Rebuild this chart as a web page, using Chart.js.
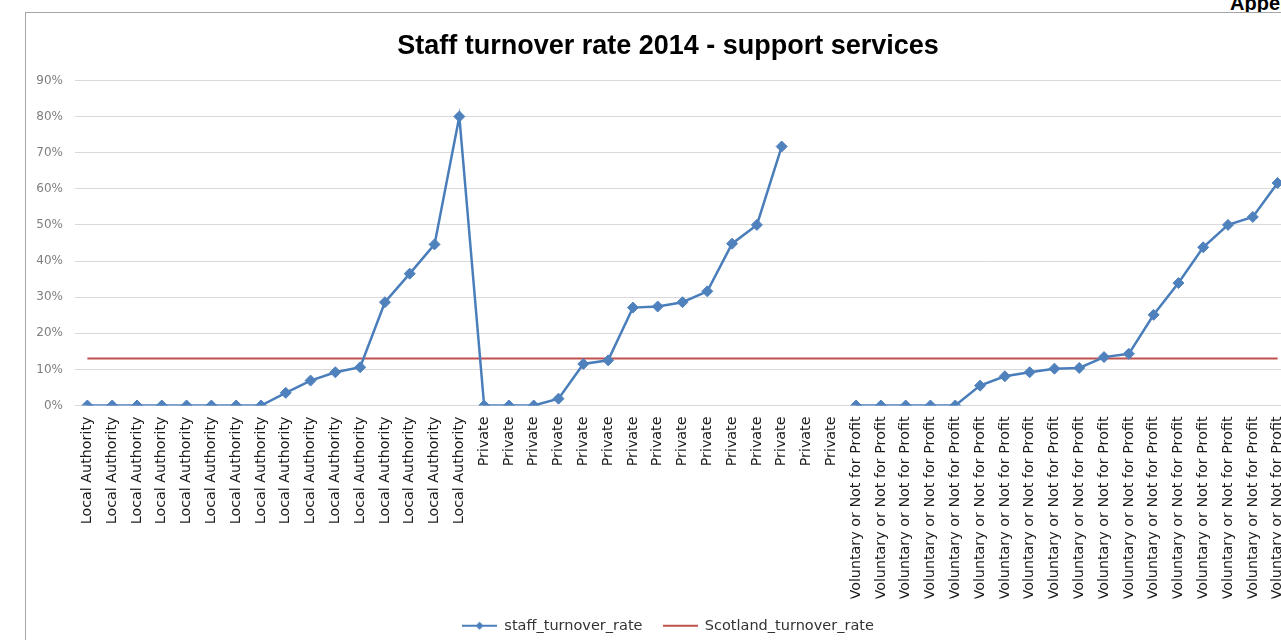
<!DOCTYPE html>
<html>
<head>
<meta charset="utf-8">
<title>Staff turnover rate 2014 - support services</title>
<script src="https://cdn.jsdelivr.net/npm/chart.js@4.4.1/dist/chart.umd.min.js"></script>
<style>
  html, body { margin:0; padding:0; width:1281px; height:640px; overflow:hidden; background:#fff; }
  #appendix { position:absolute; left:1230px; top:-7px; font:bold 20px 'Liberation Sans', Arial, sans-serif; color:#000; line-height:1; white-space:nowrap; }
  #frame { position:absolute; left:25px; top:12px; width:1284px; height:660px; border:1px solid #a6a6a6; background:#fff; }
  #frame canvas { display:block; }
</style>
</head>
<body>
<div id="appendix">Appendix</div>
<div id="frame"><canvas id="turnoverChart" width="1284" height="640"></canvas></div>
<script>
// ── data (percent) ──
const laRates = [0, 0, 0, 0, 0, 0, 0, 0, 3.5, 6.9, 9.2, 10.6, 28.6, 36.5, 44.6, 80];
const privateRates = [0, 0, 0, 1.9, 11.5, 12.5, 27.1, 27.4, 28.6, 31.6, 44.8, 50, 71.7, null, null];
const voluntaryRates = [0, 0, 0, 0, 0, 5.5, 8.1, 9.2, 10.2, 10.4, 13.4, 14.3, 25.1, 33.9, 43.8, 50, 52.2, 61.6];
const scotlandRate = 13;
const yMax = 90;
const yStep = 10;

const categories = [
  ...laRates.map(() => 'Local Authority'),
  ...privateRates.map(() => 'Private'),
  ...voluntaryRates.map(() => 'Voluntary or Not for Profit'),
];
const staffRates = [...laRates, ...privateRates, ...voluntaryRates];
const scotlandRates = categories.map(() => scotlandRate);

const BLUE = '#4A7EBB';
const RED = '#C0504D';
const GRID = '#d9d9d9';
const LABEL_FONT = "'DejaVu Sans', sans-serif";

// legend symbols: line with a diamond, plain line
function legendIcon(color, marker) {
  const c = document.createElement('canvas');
  c.width = 35; c.height = 12;
  const g = c.getContext('2d');
  g.strokeStyle = color; g.lineWidth = 2;
  g.beginPath(); g.moveTo(0, 6); g.lineTo(35, 6); g.stroke();
  if (marker) {
    g.fillStyle = color;
    g.beginPath(); g.moveTo(17.5, 2); g.lineTo(21.5, 6); g.lineTo(17.5, 10); g.lineTo(13.5, 6); g.closePath(); g.fill();
  }
  return c;
}
const icons = [legendIcon(BLUE, true), legendIcon(RED, false)];

new Chart(document.getElementById('turnoverChart'), {
  type: 'line',
  data: {
    labels: categories,
    datasets: [
      { label: 'staff_turnover_rate', data: staffRates, borderColor: BLUE, backgroundColor: '#4F81BD',
        borderWidth: 2.5, pointStyle: 'rectRot', pointRadius: 5.5, pointBackgroundColor: '#4F81BD',
        pointBorderColor: '#4F81BD', pointBorderWidth: 1, tension: 0, spanGaps: false },
      { label: 'Scotland_turnover_rate', data: scotlandRates, borderColor: RED, borderWidth: 2, pointRadius: 0, tension: 0 }
    ]
  },
  options: {
    responsive: false,
    animation: false,
    devicePixelRatio: 1,
    layout: { padding: { left: 0, right: 0, top: 0, bottom: 10 } },
    plugins: {
      title: { display: true, text: 'Staff turnover rate 2014 - support services', color: '#000',
        font: { family: "'Liberation Sans', Arial, sans-serif", weight: 'bold', size: 27 }, padding: { top: 17, bottom: 18 } },
      legend: {
        position: 'bottom',
        labels: {
          usePointStyle: true, pointStyleWidth: 35, padding: 20, color: '#333',
          font: { family: LABEL_FONT, size: 14.5 },
          generateLabels: chart => chart.data.datasets.map((ds, i) => ({
            text: ds.label, pointStyle: icons[i], fillStyle: ds.borderColor, strokeStyle: ds.borderColor,
            lineWidth: 0, hidden: false, datasetIndex: i, fontColor: '#333'
          }))
        }
      },
      tooltip: { enabled: false }
    },
    scales: {
      x: {
        offset: true,
        grid: { display: false, drawTicks: false },
        border: { display: true, color: GRID },
        ticks: { autoSkip: false, minRotation: 90, maxRotation: 90, padding: 11, color: '#1a1a1a',
          font: { family: LABEL_FONT, size: 14.3 } },
        afterFit: s => { s.height = 193; }
      },
      y: {
        min: 0, max: yMax,
        grid: { color: GRID, drawTicks: false },
        border: { display: false },
        ticks: { stepSize: yStep, padding: 12, color: '#7f7f7f', callback: v => v + '%',
          font: { family: LABEL_FONT, size: 12 } },
        afterFit: s => { s.width = 49; }
      },
      // empty right margin so title and legend stay centred on the whole frame
      yRight: {
        position: 'right',
        display: true,
        grid: { display: false, drawTicks: false },
        border: { display: false },
        ticks: { display: false },
        afterFit: s => { s.width = 20; }
      }
    }
  }
});
</script>
</body>
</html>
